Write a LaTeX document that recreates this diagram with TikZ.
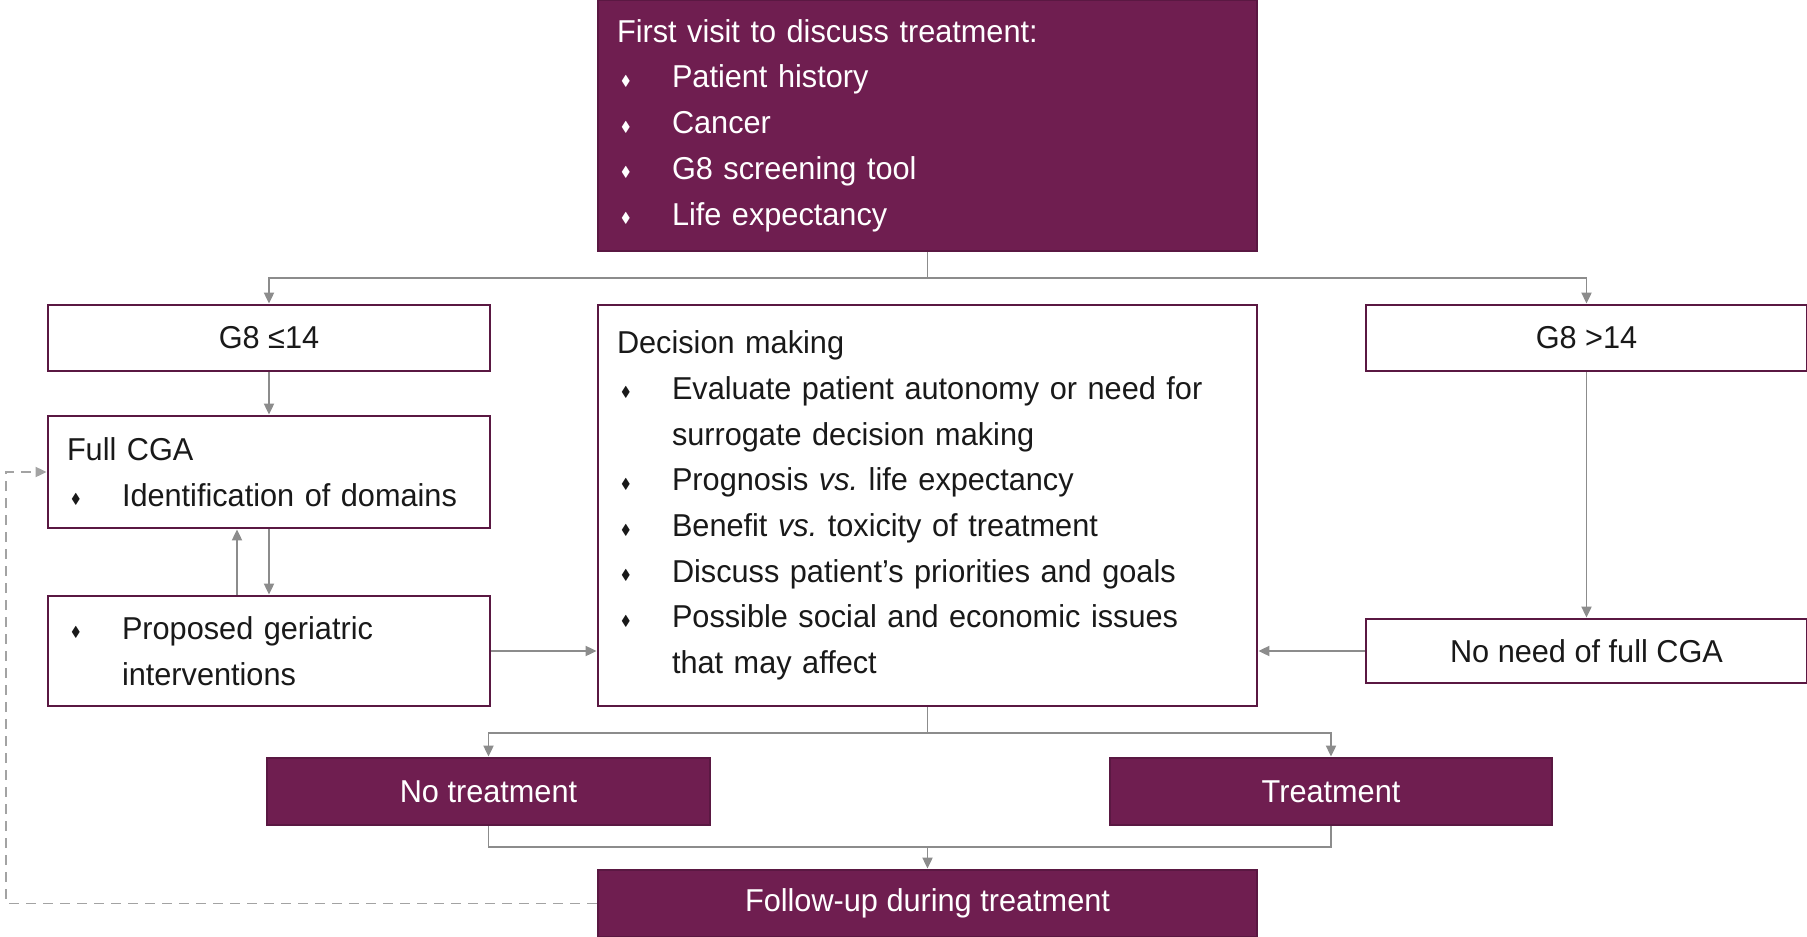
\documentclass[tikz,border=0pt]{standalone}
\usepackage{fontspec}
\setmainfont{Liberation Sans}[FakeStretch=0.97]
\usepackage{amssymb}
\usepackage{graphicx}
\usepackage{xcolor}
\usetikzlibrary{arrows.meta}

\definecolor{plum}{HTML}{6F1E50}
\definecolor{plumline}{HTML}{5A1842}
\definecolor{wire}{HTML}{8C8C8C}

\newcommand{\itm}{\makebox[1.1cm][l]{\hspace{0.08cm}\raisebox{0.15ex}{\scalebox{0.45}{$\blacklozenge$}}}}

\begin{document}
\begin{tikzpicture}[font=\fontsize{18}{26}\selectfont,
  box/.style={rectangle, draw=plumline, line width=1.6pt, inner xsep=0.38cm, inner ysep=0pt, text=black!90},
  dark/.style={box, fill=plum, text=white},
  conn/.style={draw=wire, line width=1.1pt, -{Triangle[length=0.22cm,width=0.2cm]}},
  link/.style={draw=wire, line width=1.1pt},
  back/.style={draw=wire!80, line width=1.1pt, dash pattern=on 0.2cm off 0.14cm, -{Triangle[length=0.22cm,width=0.2cm]}}]

\useasboundingbox (0,0) rectangle (36.14,-18.74);

\node[dark, text width=12.42cm, minimum height=5.02cm, align=left] (visit) at (18.55,-2.51) {First visit to discuss treatment:\\ \itm Patient history\\ \itm Cancer\\ \itm G8 screening tool\\ \itm Life expectancy};

\node[box, minimum width=8.84cm, minimum height=1.32cm] (low) at (5.38,-6.76) {G8 ≤14};
\node[box, text width=8.08cm, minimum height=2.24cm, align=left] (cga) at (5.38,-9.44) {Full CGA\\ \itm Identification of domains};
\node[box, text width=8.08cm, minimum height=2.2cm, align=left] (interv) at (5.38,-13.02) {\itm Proposed geriatric\\ \hspace*{1.1cm}interventions};

\node[box, text width=12.42cm, minimum height=8.02cm, align=left] (decide) at (18.55,-10.11) {Decision making\\ \itm Evaluate patient autonomy or need for\\ \hspace*{1.1cm}surrogate decision making\\ \itm Prognosis \textit{vs.}\ life expectancy\\ \itm Benefit \textit{vs.}\ toxicity of treatment\\ \itm Discuss patient’s priorities and goals\\ \itm Possible social and economic issues\\ \hspace*{1.1cm}that may affect};

\node[box, minimum width=8.82cm, minimum height=1.32cm] (high) at (31.73,-6.76) {G8 >14};
\node[box, minimum width=8.82cm, minimum height=1.28cm] (noneed) at (31.73,-13.02) {No need of full CGA};

\node[dark, minimum width=8.86cm, minimum height=1.34cm] (notreat) at (9.77,-15.83) {No treatment};
\node[dark, minimum width=8.84cm, minimum height=1.34cm] (treat) at (26.62,-15.83) {Treatment};
\node[dark, minimum width=13.18cm, minimum height=1.34cm] (follow) at (18.55,-18.07) {Follow-up during treatment};

\coordinate (split) at (18.55,-5.56);
\coordinate (fork) at (18.55,-14.66);
\coordinate (merge) at (18.55,-16.94);
\coordinate (loop) at (0.12,-18.07);

\draw[conn] (visit.south) -- (split) -| (low.north);
\draw[conn] (split) -| (high.north);
\draw[conn] (low) -- (cga);
\draw[conn] (cga) -- (interv);
\draw[conn] ([xshift=-0.64cm]interv.north) -- ([xshift=-0.64cm]cga.south);
\draw[conn] (interv) -- (decide.west |- interv);
\draw[conn] (high) -- (noneed);
\draw[conn] (noneed) -- (decide.east |- noneed);
\draw[conn] (decide.south) -- (fork) -| (notreat.north);
\draw[conn] (fork) -| (treat.north);
\draw[link] (notreat.south) |- (merge) -| (treat.south);
\draw[conn] (merge) -- (follow.north);
\draw[back] (follow.west) -- (loop) |- (cga.west);

\end{tikzpicture}
\end{document}
